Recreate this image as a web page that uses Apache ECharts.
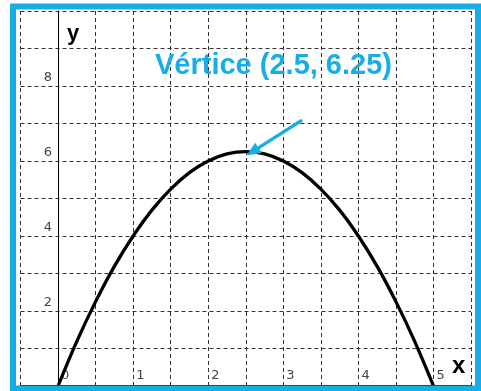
<!DOCTYPE html>
<html>
<head>
<meta charset="utf-8">
<script src="https://cdn.jsdelivr.net/npm/echarts@6/dist/echarts.min.js"></script>
<style>
  html, body { margin: 0; padding: 0; background: #fff; }
  #chart { width: 481px; height: 391px; }
</style>
</head>
<body>
<div id="chart"></div>
<script>
// points
const xValues = [0, 0.25, 0.5, 0.75, 1, 1.25, 1.5, 1.75, 2, 2.25, 2.5, 2.75, 3, 3.25, 3.5, 3.75, 4, 4.25, 4.5, 4.75, 5];
const yValues = [0, 1.19, 2.25, 3.19, 4, 4.69, 5.25, 5.69, 6, 6.19, 6.25, 6.19, 6, 5.69, 5.25, 4.69, 4, 3.19, 2.25, 1.19, 0];
const vertex = [2.5, 6.25];
const arrowStart = [3.25, 7.09];
const arrowEnd = [2.59, 6.25];
const titleText = 'Vértice (' + vertex[0] + ', ' + vertex[1] + ')';

const blue = '#17aee8';
const labelColor = '#444';

const chart = echarts.init(document.getElementById('chart'));

chart.setOption({
  animation: false,
  backgroundColor: '#fff',
  title: {
    text: titleText,
    left: 155,
    top: 51,
    padding: 0,
    textStyle: { color: blue, fontFamily: 'Liberation Sans', fontWeight: 'bold', fontSize: 29 }
  },
  grid: { left: 20.5, right: 10, top: 11, bottom: 5, outerBoundsMode: 'none' },
  xAxis: {
    type: 'value',
    min: -0.5,
    max: 5.5,
    interval: 0.5,
    axisLine: { onZero: true, lineStyle: { color: '#000', width: 2 } },
    axisTick: { show: false },
    axisLabel: {
      inside: true,
      margin: 4,
      align: 'left',
      padding: [0, 0, 0, 3],
      color: labelColor,
      fontFamily: 'DejaVu Sans',
      fontSize: 13,
      formatter: v => (Number.isInteger(v) ? String(v) : '')
    },
    splitLine: { show: true, lineStyle: { color: '#333', width: 1, type: [4, 3] } }
  },
  yAxis: {
    type: 'value',
    min: 0,
    max: 10,
    interval: 1,
    // shift the axis (line + labels) over to x = 0
    offset: -37.5,
    axisLine: { onZero: false, lineStyle: { color: '#000', width: 1 } },
    axisTick: { show: false },
    axisLabel: {
      margin: 6,
      verticalAlign: 'bottom',
      padding: [0, 0, 2, 0],
      color: labelColor,
      fontFamily: 'DejaVu Sans',
      fontSize: 13,
      formatter: v => (v > 0 && v < 10 && v % 2 === 0 ? String(v) : '')
    },
    splitLine: { show: true, lineStyle: { color: '#333', width: 1, type: [4, 3] } }
  },
  graphic: [
    {
      type: 'rect',
      z: 100,
      shape: { x: 13, y: 6.5, width: 465, height: 382 },
      style: { fill: 'none', stroke: blue, lineWidth: 6 }
    },
    {
      type: 'text',
      z: 100,
      left: 67,
      top: 23,
      style: { text: 'y', fill: '#000', font: 'bold 22px "Liberation Sans"' }
    },
    {
      type: 'text',
      z: 100,
      left: 452,
      top: 354,
      style: { text: 'x', fill: '#000', font: 'bold 24px "Liberation Sans"' }
    }
  ],
  series: [
    {
      type: 'line',
      data: xValues.map((x, i) => [x, yValues[i]]),
      smooth: 0.4,
      showSymbol: false,
      lineStyle: { color: '#000', width: 3.3 },
      markLine: {
        silent: true,
        animation: false,
        label: { show: false },
        lineStyle: { color: blue, width: 3.5, type: 'solid' },
        symbol: ['none', 'triangle'],
        symbolSize: [12, 14],
        data: [[
          { coord: arrowStart },
          { coord: arrowEnd }
        ]]
      }
    }
  ]
});
</script>
</body>
</html>
